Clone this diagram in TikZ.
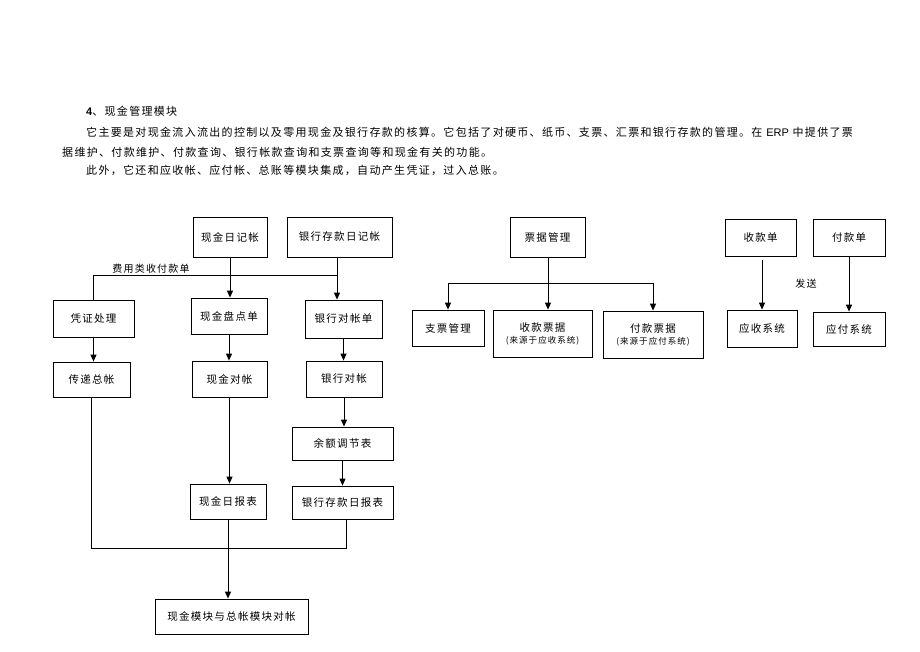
\documentclass[tikz,border=0pt]{standalone}
\usepackage{xcolor}
\usepackage{fontspec}
\setmainfont{Noto Sans CJK SC}[LetterSpace=12]
\newfontfamily\latinfont{Liberation Sans}
\usetikzlibrary{arrows.meta}

\begin{document}
\begin{tikzpicture}[x=1pt, y=-1pt,
      box/.style={rectangle, draw, line width=0.8pt, inner sep=0pt, align=center,
        font=\fontsize{10.5}{14}\selectfont},
      txt/.style={anchor=base west, inner sep=0pt, font=\fontsize{11}{13}\selectfont},
      lbl/.style={inner sep=0pt, font=\fontsize{10}{12}\selectfont},
      flow/.style={-{Triangle[length=7pt,width=6pt]}, line width=1pt},
      link/.style={line width=1pt}
      ]
      \useasboundingbox (0,0) rectangle (920,651);

      \node[txt] (title) at (86,115) {{\latinfont\bfseries 4}、现金管理模块};
      \node[txt] (body1) at (86,136) {它主要是对现金流入流出的控制以及零用现金及银行存款的核算。它包括了对硬币、纸币、支票、汇票和银行存款的管理。在 {\latinfont ERP} 中提供了票};
      \node[txt] (body2) at (62,156) {据维护、付款维护、付款查询、银行帐款查询和支票查询等和现金有关的功能。};
      \node[txt] (body3) at (86,174) {此外，它还和应收帐、应付帐、总账等模块集成，自动产生凭证，过入总账。};

      % cash part
      \node[box, minimum width=74, minimum height=40] (cashjournal) at (230,237) {现金日记帐};
      \node[box, minimum width=105, minimum height=40] (bankjournal) at (339.5,237) {银行存款日记帐};
      \node[box, minimum width=81, minimum height=37] (voucher) at (93.5,318.5) {凭证处理};
      \node[box, minimum width=76, minimum height=36] (cashcount) at (229,316) {现金盘点单};
      \node[box, minimum width=77, minimum height=38] (bankstmt) at (343.5,319) {银行对帐单};
      \node[box, minimum width=77, minimum height=35] (ledger) at (91.5,379.5) {传递总帐};
      \node[box, minimum width=75, minimum height=36] (cashcheck) at (229.5,379) {现金对帐};
      \node[box, minimum width=76, minimum height=36] (bankcheck) at (344,379) {银行对帐};
      \node[box, minimum width=101, minimum height=33] (balance) at (342.5,443.5) {余额调节表};
      \node[box, minimum width=76, minimum height=35] (cashdaily) at (228,501.5) {现金日报表};
      \node[box, minimum width=101, minimum height=33] (bankdaily) at (342.5,502.5) {银行存款日报表};
      \node[box, minimum width=153, minimum height=35] (reconcile) at (231.5,616.5) {现金模块与总帐模块对帐};

      \coordinate (split) at (337,275);
      \coordinate (merge) at (228,548);
      \node[lbl] (fee) at (151,269) {费用类收付款单};

      \draw[flow] (cashjournal.south) -- (cashjournal.south |- cashcount.north);
      \draw[flow] (bankjournal.south -| split) -- (split |- bankstmt.north);
      \draw[link] (split) -| (voucher.north);
      \draw[flow] (voucher.south) -- (voucher.south |- ledger.north);
      \draw[flow] (cashcount.south) -- (cashcount.south |- cashcheck.north);
      \draw[flow] (cashcheck.south) -- (cashcheck.south |- cashdaily.north);
      \draw[flow] (bankstmt.south) -- (bankstmt.south |- bankcheck.north);
      \draw[flow] (bankcheck.south) -- (bankcheck.south |- balance.north);
      \draw[flow] (balance) -- (bankdaily);
      \draw[link] (ledger.south) |- (merge) -| ([xshift=3.5pt]bankdaily.south);
      \draw[flow] (cashdaily.south) -- (cashdaily.south |- reconcile.north);

      % bills part
      \node[box, minimum width=75, minimum height=40] (bills) at (547.5,237) {票据管理};
      \node[box, minimum width=72, minimum height=36] (cheque) at (448,328) {支票管理};
      \node[box, minimum width=99, minimum height=47] (receipt) at (542.5,333.5)
        {收款票据\\[-2pt]{\fontsize{8.5}{10}\selectfont (来源于应收系统)}};
      \node[box, minimum width=100, minimum height=47] (payment) at (653,334.5)
        {付款票据\\[-2pt]{\fontsize{8.5}{10}\selectfont (来源于应付系统)}};

      \coordinate (billbar) at (548,283);
      \draw[flow] (bills.south -| billbar) -- (billbar |- receipt.north);
      \draw[flow] (billbar) -| (cheque.north);
      \draw[flow] (billbar) -| (payment.north);

      % slips part
      \node[box, minimum width=71, minimum height=37] (recvslip) at (760.5,237.5) {收款单};
      \node[box, minimum width=72, minimum height=37] (payslip) at (849,237.5) {付款单};
      \node[box, minimum width=70, minimum height=37] (recvsys) at (762,328.5) {应收系统};
      \node[box, minimum width=72, minimum height=34] (paysys) at (849,329) {应付系统};
      \node[lbl] (send) at (806,284) {发送};

      \draw[flow, shorten <=4pt] (recvslip.south -| recvsys) -- (recvsys.north);
      \draw[flow] (payslip) -- (paysys);
    \end{tikzpicture}
\end{document}
